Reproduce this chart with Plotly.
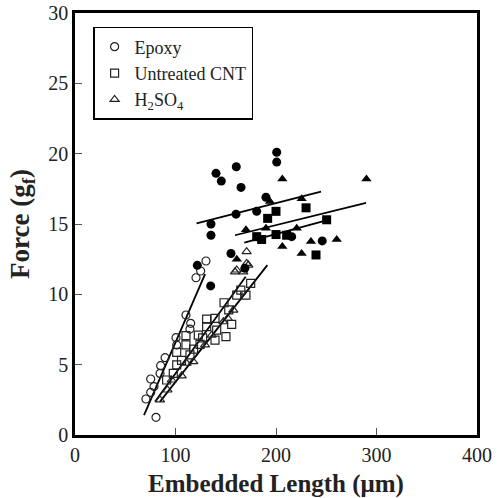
import plotly.graph_objects as go

# Open symbols (short embedded lengths)
epoxy_x = [130.3, 125, 120.4, 110.4, 115.1, 114.4, 100.5, 101.2, 89.6, 85.2, 75.3, 78.6, 75.3, 70.6, 80.6, 84.6]
epoxy_y = [12.37, 11.66, 11.18, 8.53, 7.94, 7.53, 6.92, 6.4, 5.5, 4.93, 3.98, 3.44, 3.03, 2.56, 1.26, 4.38]

cnt_x = [174.8, 170.1, 160.9, 148.3, 131, 139.3, 155.9, 131, 141, 150.2, 122.7, 110.4, 124.4, 110.4, 101.2, 139.3, 114.4, 101.2, 97.8, 91.2, 165.0, 153.0, 118.0, 106.0, 127.0]
cnt_y = [10.78, 9.95, 9.95, 9.4, 8.24, 8.29, 7.87, 7.7, 7.46, 6.99, 7.1, 7.06, 6.44, 6.4, 5.88, 6.75, 5.69, 4.98, 4.38, 3.91, 10.3, 8.9, 6.1, 5.3, 6.9]

h2so4_x = [160.9, 172.5, 157.5, 147.6, 136, 129.4, 117.7, 106.2, 96.2, 84.6, 111.1, 167.5, 159.2, 170.8, 170.8, 152.0, 92.0]
h2so4_y = [11.73, 12.08, 8.88, 8.05, 7.1, 6.4, 5.21, 4.21, 3.91, 2.49, 5.1, 11.6, 11.6, 13.03, 12.2, 8.3, 3.2]

# Filled symbols (long embedded lengths)
epoxy_f_x = [200.7, 200.7, 140.3, 145.6, 160.5, 165.2, 190, 160.2, 180.8, 135.3, 135.3, 215.6, 246, 155.2, 121.7, 135, 169]
epoxy_f_y = [20.1, 19.4, 18.6, 18.05, 19.07, 17.6, 16.9, 15.7, 15.9, 15.0, 14.2, 14.1, 13.8, 12.9, 12.06, 10.6, 11.85]

cnt_f_x = [200, 229.9, 191.7, 180.8, 185.7, 200, 210.6, 239.8, 250.4]
cnt_f_y = [15.9, 16.15, 15.4, 14.1, 13.9, 14.25, 14.2, 12.8, 15.3]

h2so4_f_x = [206.3, 290, 225.5, 170.1, 190, 220.6, 206.3, 225.5, 234.8, 260.4, 161, 194]
h2so4_f_y = [18.2, 18.2, 16.8, 14.6, 14.7, 14.7, 13.4, 12.9, 13.75, 13.9, 12.5, 16.6]

# Fitted lines (end points)
fit_epoxy_x, fit_epoxy_y = [68.7, 129.4], [1.42, 11.44]
fit_cnt_x, fit_cnt_y = [84.6, 191.4], [2.37, 12.08]
fit_h2so4_x, fit_h2so4_y = [79.6, 169.8], [2.37, 11.25]
fit_epoxy_f_x, fit_epoxy_f_y = [121, 244.8], [15.05, 17.3]
fit_h2so4_f_x, fit_h2so4_f_y = [159.2, 289.6], [14.2, 16.5]
fit_cnt_f_x, fit_cnt_f_y = [168.5, 252], [13.67, 15.3]

FONT = "Liberation Serif"
fig = go.Figure()

def open_marker(sym):
    return dict(symbol=sym, size=8, color="#222", line=dict(color="#222", width=1.2))

def filled_marker(sym):
    return dict(symbol=sym, size=9, color="black", line=dict(color="black", width=0))

for lx, ly in [(fit_epoxy_x, fit_epoxy_y), (fit_cnt_x, fit_cnt_y), (fit_h2so4_x, fit_h2so4_y),
               (fit_epoxy_f_x, fit_epoxy_f_y), (fit_h2so4_f_x, fit_h2so4_f_y), (fit_cnt_f_x, fit_cnt_f_y)]:
    fig.add_trace(go.Scatter(x=lx, y=ly, mode="lines", line=dict(color="black", width=1.8),
                             showlegend=False, hoverinfo="skip"))

fig.add_trace(go.Scatter(x=epoxy_x, y=epoxy_y, mode="markers", marker=open_marker("circle-open"),
                         name="Epoxy", legendrank=1))
fig.add_trace(go.Scatter(x=cnt_x, y=cnt_y, mode="markers", marker=open_marker("square-open"),
                         name="Untreated CNT", legendrank=2))
fig.add_trace(go.Scatter(x=h2so4_x, y=h2so4_y, mode="markers", marker=open_marker("triangle-up-open"),
                         name="H<sub>2</sub>SO<sub>4</sub>", legendrank=3))

fig.add_trace(go.Scatter(x=epoxy_f_x, y=epoxy_f_y, mode="markers", marker=filled_marker("circle"), showlegend=False))
fig.add_trace(go.Scatter(x=cnt_f_x, y=cnt_f_y, mode="markers", marker=filled_marker("square"), showlegend=False))
fig.add_trace(go.Scatter(x=h2so4_f_x, y=h2so4_f_y, mode="markers", marker=filled_marker("triangle-up"), showlegend=False))

axis_common = dict(showline=True, linecolor="black", linewidth=2.5, mirror=True, showgrid=False, zeroline=False,
                   ticks="inside", ticklen=7, tickwidth=1, tickcolor="#555", automargin=False,
                   ticklabeloverflow="allow",
                   tickfont=dict(family=FONT, size=20, color="#222"))

fig.update_layout(
    width=500, height=498,
    margin=dict(l=75, r=23, t=13, b=63),
    paper_bgcolor="white", plot_bgcolor="white",
    xaxis=dict(range=[0, 400], tickvals=[0, 100, 200, 300, 400],
               title=dict(text="<b>Embedded Length (μm)</b>", font=dict(family=FONT, size=25, color="#222"), standoff=10),
               **axis_common),
    yaxis=dict(range=[0, 30], tickvals=[0, 5, 10, 15, 20, 25, 30],
               title=dict(text="<b>Force (g<sub>f</sub>)</b>", font=dict(family=FONT, size=27, color="#222"), standoff=11),
               **axis_common),
    legend=dict(x=0.045, y=0.967, xanchor="left", yanchor="top", bgcolor="white",
                bordercolor="black", borderwidth=1.5, font=dict(family=FONT, size=18, color="#222"),
                itemwidth=30, tracegroupgap=0),
    font=dict(family=FONT),
    showlegend=True,
)

fig.write_html("out.html", config={"displayModeBar": False},
               post_script="document.body.style.margin='0';")
